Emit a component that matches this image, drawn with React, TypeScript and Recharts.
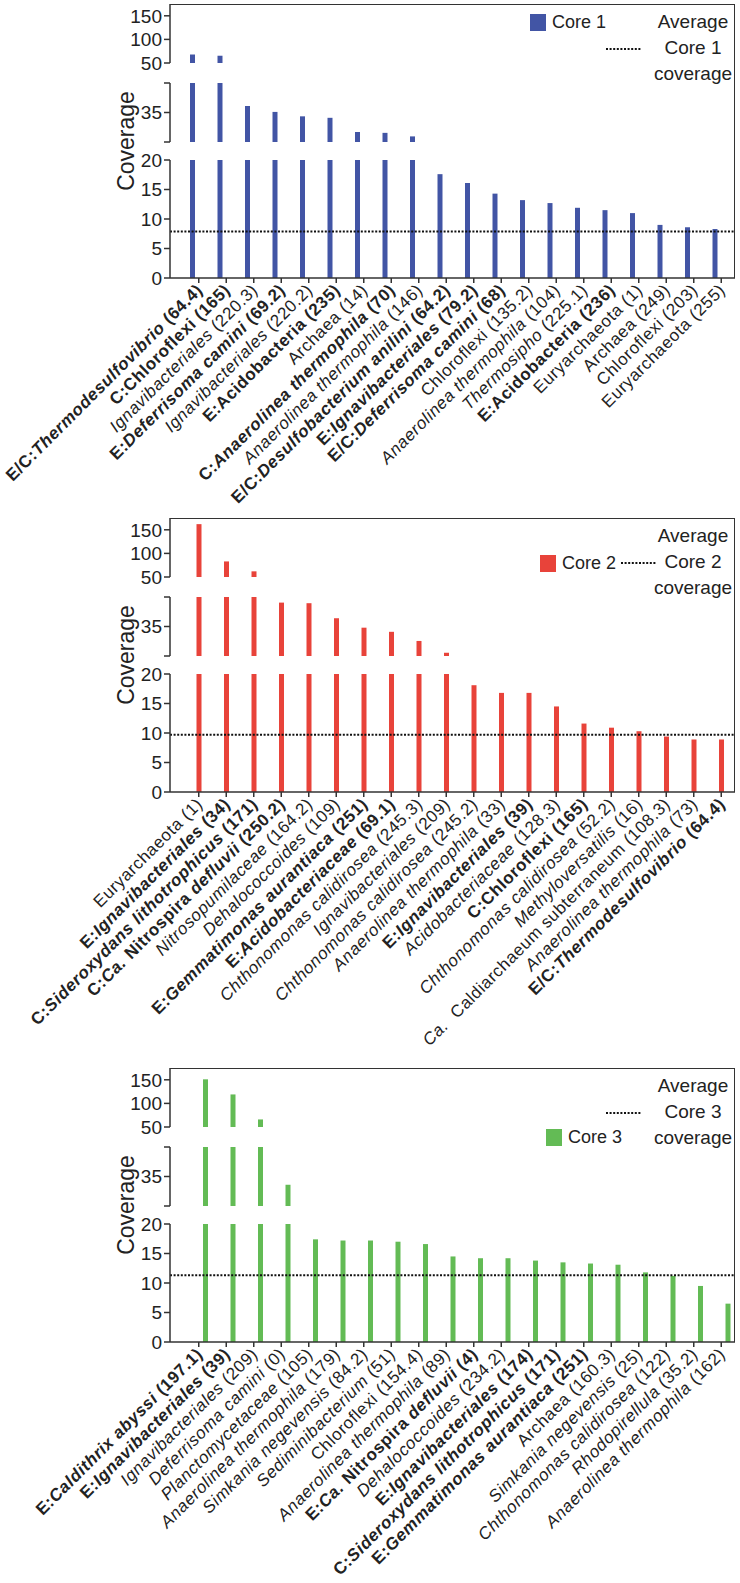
import React from "react";
import { BarChart, Bar, XAxis, YAxis, ReferenceLine } from "recharts";

const FONT = "'Liberation Sans', Arial, Helvetica, sans-serif";
const AXIS = "#333";
const COLORS = { core1: "#4255a5", core2: "#e8433a", core3: "#63bb55" };

// "!" = whole label bold, text between "_" is italic
const core1Labels = [
  "!E/C:_Thermodesulfovibrio_ (64.4)",
  "!C:Chloroflexi (165)",
  "_Ignavibacteriales_ (220.3)",
  "!E:_Deferrisoma camini_ (69.2)",
  "_Ignavibacteriales_ (220.2)",
  "!E:Acidobacteria (235)",
  "Archaea (14)",
  "!C:_Anaerolinea thermophila_ (70)",
  "_Anaerolinea thermophila_ (146)",
  "!E/C:_Desulfobacterium anilini_ (64.2)",
  "!E:_Ignavibacteriales_ (79.2)",
  "!E/C:_Deferrisoma camini_ (68)",
  "Chloroflexi (135.2)",
  "_Anaerolinea thermophila_ (104)",
  "_Thermosipho_ (225.1)",
  "!E:Acidobacteria (236)",
  "Euryarchaeota (1)",
  "Archaea (249)",
  "Chloroflexi (203)",
  "Euryarchaeota (255)",
];
const core1Values = [68, 65.4, 37.2, 35.2, 33.7, 33.2, 28.4, 28.1, 26.9, 17.6, 16.1, 14.3, 13.2, 12.7, 11.9, 11.5, 11.0, 9.0, 8.6, 8.3];
const core1Average = 7.9;

const core2Labels = [
  "Euryarchaeota (1)",
  "!E:_Ignavibacteriales_ (34)",
  "!C:_Sideroxydans lithotrophicus_ (171)",
  "!C:_Ca._ Nitrospira _defluvii_ (250.2)",
  "_Nitrosopumilaceae_ (164.2)",
  "_Dehalococcoides_ (109)",
  "!E:_Gemmatimonas aurantiaca_ (251)",
  "!E:_Acidobacteriaceae_ (69.1)",
  "_Chthonomonas calidirosea_ (245.3)",
  "_Ignavibacteriales_ (209)",
  "_Chthonomonas calidirosea_ (245.2)",
  "_Anaerolinea thermophila_ (33)",
  "!E:_Ignavibacteriales_ (39)",
  "_Acidobacteriaceae_ (128.3)",
  "!C:Chloroflexi (165)",
  "_Chthonomonas calidirosea_ (52.2)",
  "_Methyloversatilis_ (16)",
  "_Ca._  Caldiarchaeum subterraneum (108.3)",
  "_Anaerolinea thermophila_ (73)",
  "!E/C:_Thermodesulfovibrio_ (64.4)",
];
const core2Values = [162, 83, 62, 43.1, 42.9, 37.8, 34.6, 33.2, 30.1, 26.1, 18.1, 16.8, 16.8, 14.5, 11.6, 10.9, 10.3, 9.4, 8.9, 8.9];
const core2Average = 9.7;

const core3Labels = [
  "!E:_Caldithrix abyssi_ (197.1)",
  "!E:_Ignavibacteriales_ (39)",
  "_Ignavibacteriales_ (209)",
  "_Deferrisoma camini_ (0)",
  "_Planctomycetaceae_ (105)",
  "_Anaerolinea thermophila_ (179)",
  "_Simkania negevensis_ (84.2)",
  "_Sediminibacterium_ (51)",
  "Chloroflexi (154.4)",
  "_Anaerolinea thermophila_ (89)",
  "!E:_Ca._ Nitrospira _defluvii_ (4)",
  "_Dehalococcoides_ (234.2)",
  "!E:_Ignavibacteriales_ (174)",
  "!C:_Sideroxydans lithotrophicus_ (171)",
  "!E:_Gemmatimonas aurantiaca_ (251)",
  "Archaea (160.3)",
  "_Simkania negevensis_ (25)",
  "_Chthonomonas calidirosea_ (122)",
  "_Rhodopirellula_ (35.2)",
  "_Anaerolinea thermophila_ (162)",
];
const core3Values = [151, 119, 66, 32.2, 17.4, 17.2, 17.2, 17.0, 16.6, 14.5, 14.2, 14.2, 13.8, 13.5, 13.3, 13.1, 11.8, 11.2, 9.5, 6.5];
const core3Average = 11.3;

// broken y axis: three stacked segments
const topTicks = [50, 100, 150];
const midTicks = [25, 35, 45];
const midLabeled = [35];
const lowTicks = [0, 5, 10, 15, 20];

const SEGMENTS = [
  { domain: [50, 175], ticks: topTicks, labeled: topTicks, top: 4, bottom: 63 },
  { domain: [25, 45], ticks: midTicks, labeled: midLabeled, top: 83, bottom: 142 },
  { domain: [0, 20], ticks: lowTicks, labeled: lowTicks, top: 160, bottom: 278 },
];

const PAD = 12;
const XAXIS_H = 290;
const Y_W = 170;

function CatTick(props: any) {
  const { x, y, payload } = props;
  const raw = String(payload.value);
  const bold = raw.startsWith("!");
  const parts = (bold ? raw.slice(1) : raw).split("_");
  return (
    <g transform={`translate(${x + 5},${y + 6})`}>
      <text
        transform="rotate(-45)"
        textAnchor="end"
        fontSize={17}
        letterSpacing={0.6}
        fill="#222"
        fontFamily={FONT}
        fontWeight={bold ? 700 : 400}
        style={{ whiteSpace: "pre" }}
      >
        {parts.map((p, i) => (
          <tspan key={i} fontStyle={i % 2 ? "italic" : "normal"}>
            {p}
          </tspan>
        ))}
      </text>
    </g>
  );
}

function YTick(props: any) {
  const { x, y, payload, labeled } = props;
  if (!labeled.includes(payload.value)) return null;
  return (
    <text x={x} y={y} dy="0.36em" textAnchor="end" fontSize={19} fill="#222" fontFamily={FONT}>
      {payload.value}
    </text>
  );
}

function Segment({ data, seg, avg, showX }: any) {
  const h = seg.bottom - seg.top;
  const height = h + PAD + (showX ? XAXIS_H : PAD);
  return (
    <div style={{ position: "absolute", left: 0, top: seg.top - PAD }}>
      <BarChart
        width={740}
        height={height}
        data={data}
        margin={{ top: PAD, right: 5, bottom: showX ? 0 : PAD, left: 0 }}
        barSize={5}
        barGap={1.5}
      >
        <XAxis
          dataKey="name"
          hide={!showX}
          interval={0}
          height={XAXIS_H}
          padding={{ left: 15, right: 0 }}
          tick={<CatTick />}
          tickSize={5}
          axisLine={{ stroke: AXIS, strokeWidth: 1.5 }}
          tickLine={{ stroke: AXIS, strokeWidth: 1.5 }}
        />
        <YAxis
          type="number"
          domain={seg.domain}
          ticks={seg.ticks}
          allowDataOverflow
          width={Y_W}
          tickSize={6}
          tick={<YTick labeled={seg.labeled} />}
          axisLine={{ stroke: AXIS, strokeWidth: 1.5 }}
          tickLine={{ stroke: AXIS, strokeWidth: 1.5 }}
        />
        {showX && (
          <ReferenceLine y={avg} stroke="#111" strokeWidth={2} strokeDasharray="2 1.6" />
        )}
        <Bar dataKey="core1" fill={COLORS.core1} isAnimationActive={false} />
        <Bar dataKey="core2" fill={COLORS.core2} isAnimationActive={false} />
        <Bar dataKey="core3" fill={COLORS.core3} isAnimationActive={false} />
      </BarChart>
    </div>
  );
}

function Panel({ top, labels, values, avg, coreKey, coreName, legendRow, squareX, dotX }: any) {
  const data = labels.map((name: string, i: number) => ({ name, [coreKey]: values[i] }));
  const rowY = [22, 49, 73][legendRow];
  return (
    <div style={{ position: "absolute", left: 0, top, width: 740, height: 520 }}>
      {SEGMENTS.map((seg, i) => (
        <Segment key={i} data={data} seg={seg} avg={avg} showX={i === 2} />
      ))}
      {/* plot frame */}
      <div
        style={{
          position: "absolute",
          left: Y_W,
          top: 4,
          width: 735 - Y_W,
          height: 274,
          borderTop: `1.5px solid ${AXIS}`,
          borderRight: `1.5px solid ${AXIS}`,
          boxSizing: "border-box",
          pointerEvents: "none",
        }}
      />
      <div
        style={{
          position: "absolute",
          left: 126,
          top: 141,
          transform: "translate(-50%, -50%) rotate(-90deg)",
          fontSize: 23,
          lineHeight: "24px",
          fontFamily: FONT,
          color: "#222",
          whiteSpace: "nowrap",
        }}
      >
        Coverage
      </div>
      {/* legend */}
      <div
        style={{
          position: "absolute",
          left: squareX,
          top: rowY - 8,
          width: 16,
          height: 17,
          background: COLORS[coreKey as keyof typeof COLORS],
        }}
      />
      <div
        style={{
          position: "absolute",
          left: squareX + 22,
          top: rowY - 12,
          fontSize: 18,
          lineHeight: "24px",
          fontFamily: FONT,
          color: "#222",
          whiteSpace: "nowrap",
        }}
      >
        {coreName}
      </div>
      <svg style={{ position: "absolute", left: dotX, top: 47 }} width={36} height={4}>
        <line x1={0} y1={2} x2={36} y2={2} stroke="#111" strokeWidth={2} strokeDasharray="2 1.6" />
      </svg>
      <div
        style={{
          position: "absolute",
          left: 628,
          top: 9,
          width: 130,
          textAlign: "center",
          fontSize: 19,
          lineHeight: "26px",
          fontFamily: FONT,
          color: "#222",
        }}
      >
        Average
        <br />
        {coreName}
        <br />
        coverage
      </div>
    </div>
  );
}

export default function App() {
  return (
    <div style={{ position: "absolute", left: 0, top: 0, width: 740, height: 1583, background: "#fff", overflow: "hidden" }}>
      <Panel top={0} labels={core1Labels} values={core1Values} avg={core1Average} coreKey="core1" coreName="Core 1" legendRow={0} squareX={530} dotX={606} />
      <Panel top={514} labels={core2Labels} values={core2Values} avg={core2Average} coreKey="core2" coreName="Core 2" legendRow={1} squareX={540} dotX={621} />
      <Panel top={1064} labels={core3Labels} values={core3Values} avg={core3Average} coreKey="core3" coreName="Core 3" legendRow={2} squareX={546} dotX={606} />
    </div>
  );
}
